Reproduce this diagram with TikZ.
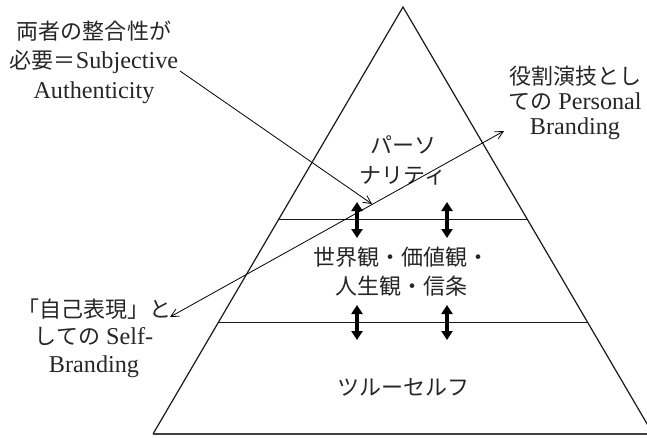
\documentclass[tikz,border=0pt]{standalone}
\usepackage{fontspec}
\setmainfont{Liberation Serif}[Scale=1.1]
\newfontfamily\jp{Noto Sans CJK JP}
\usetikzlibrary{arrows.meta,calc}
\tikzset{
  lbl/.style={align=center, inner sep=0pt, text=black!85, font=\fontsize{22}{#1}\selectfont},
  edge/.style={line width=1.2pt, black!90},
  band/.style={line width=1pt, black!90},
  dbl/.style={line width=3.2pt, {Triangle[length=9pt,width=11pt]}-{Triangle[length=9pt,width=11pt]}},
  thinarrow/.style={line width=0.8pt, -{Straight Barb[length=8pt,width=8pt]}},
  thinboth/.style={line width=0.8pt, {Straight Barb[length=8pt,width=8pt]}-{Straight Barb[length=8pt,width=8pt]}}
}
\begin{document}
\begin{tikzpicture}[x=1pt,y=-1pt]
\useasboundingbox (0,0) rectangle (647,437);
% pyramid
\coordinate (apex) at (403,7);
\coordinate (bl) at (153,434);
\coordinate (br) at (653,434);
\draw[edge, line join=miter] (bl) -- (apex) -- (br);
\draw[line width=2pt, black!75] (bl) -- (br);
\draw[band] ($(apex)!0.4965!(bl)$) coordinate (l1a) -- ($(apex)!0.4965!(br)$) coordinate (l1b);
\draw[band] ($(apex)!0.740!(bl)$) coordinate (l2a) -- ($(apex)!0.740!(br)$) coordinate (l2b);
% layer labels
\node[lbl=30] (pers) at (403,160) {\jp パーソ\\\jp ナリティ};
\node[lbl=29] (world) at (401,272) {\jp 世界観・価値観・\\\jp 人生観・信条};
\node[lbl=29] (true) at (403,387) {\jp ツルーセルフ};
% double arrows
\coordinate (u1t) at (357,202); \coordinate (u1b) at (357,238);
\coordinate (u2t) at (447,202); \coordinate (u2b) at (447,238);
\coordinate (d1t) at (357,305); \coordinate (d1b) at (357,340);
\coordinate (d2t) at (447,305); \coordinate (d2b) at (447,340);
\draw[dbl] (u1t) -- (u1b);
\draw[dbl] (u2t) -- (u2b);
\draw[dbl] (d1t) -- (d1b);
\draw[dbl] (d2t) -- (d2b);
% side labels
\node[lbl=29.5] (subj) at (94,62) {{\jp 両者の整合性が}\\{\jp 必要＝}Subjective\\Authenticity};
\node[lbl=25] (role) at (575,103) {{\jp 役割演技とし}\\{\jp ての} Personal\\Branding};
\node[lbl=27.5] (self) at (94,338) {{\jp 「自己表現」と}\\{\jp しての} Self-\\Branding};
% thin arrows
\coordinate (s1) at (180,71);
\coordinate (s2) at (372,204);
\draw[thinarrow] (s1) -- (s2);
\coordinate (b1) at (170,317);
\coordinate (b2) at (504,131);
\draw[thinboth] (b1) -- (b2);
\end{tikzpicture}
\end{document}
